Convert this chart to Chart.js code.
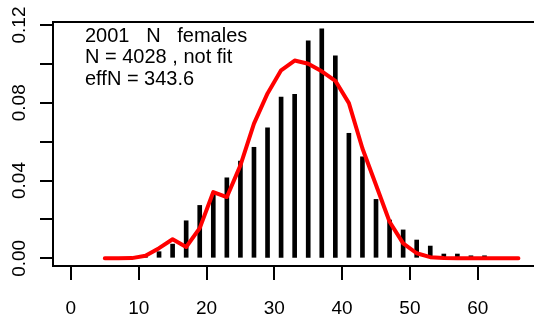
<!DOCTYPE html>
<html>
<head>
<meta charset="utf-8">
<script src="https://cdn.jsdelivr.net/npm/chart.js@4/dist/chart.umd.min.js"></script>
<style>
  html, body { margin: 0; padding: 0; background: #fff; overflow: hidden; }
  #wrap { width: 534px; height: 322px; position: relative; }
</style>
</head>
<body>
<div id="wrap"><canvas id="c" width="534" height="322"></canvas></div>
<script>
// Proportion at length: observed bars and model curve
const barX = [11, 13, 15, 17, 19, 21, 23, 25, 27, 29, 31, 33, 35, 37, 39, 41, 43, 45, 47, 49, 51, 53, 55, 57, 59, 61];
const barY = [0.0012, 0.0034, 0.0073, 0.0193, 0.0272, 0.0330, 0.0414, 0.0500, 0.0571, 0.0671, 0.0829, 0.0843, 0.1119,
              0.1180, 0.1042, 0.0643, 0.0522, 0.0303, 0.0197, 0.0146, 0.0094, 0.0063, 0.0022, 0.0022, 0.0013, 0.0013];
const curveX = [5, 7, 9, 11, 13, 15, 17, 19, 21, 23, 25, 27, 29, 31, 33, 35, 37, 39, 41, 43, 45, 47, 49, 51, 53, 55, 57, 59, 61, 63, 65, 66];
const curveY = [0, 0, 0.0001, 0.0013, 0.0052, 0.0098, 0.0058, 0.0155, 0.0341, 0.0315, 0.0478, 0.0693, 0.0848, 0.0967, 0.1017,
                0.1001, 0.0962, 0.0913, 0.0798, 0.0565, 0.0377, 0.0188, 0.0077, 0.0026, 0.0006, 0.0001, 0, 0, 0, 0, 0, 0];
const xTicks = [0, 10, 20, 30, 40, 50, 60];
const yTicks = [0, 0.02, 0.04, 0.06, 0.08, 0.10, 0.12];
const yLabels = [0, 0.04, 0.08, 0.12];
const infoLines = ['2001   N   females', 'N = 4028 , not fit', 'effN = 343.6'];

const FONT = '"Liberation Sans", Arial, Helvetica, sans-serif';

const axisText = {
  id: 'axisText',
  afterDraw(chart) {
    const ctx = chart.ctx;
    const xs = chart.scales.x, ys = chart.scales.y, a = chart.chartArea;
    ctx.save();
    // top edge of the plot box
    ctx.strokeStyle = '#000';
    ctx.lineWidth = 2;
    ctx.beginPath();
    ctx.moveTo(a.left - 1, a.top);
    ctx.lineTo(a.right + 2, a.top);
    ctx.stroke();

    ctx.fillStyle = '#000';
    ctx.font = '19px ' + FONT;
    ctx.textAlign = 'center';
    ctx.textBaseline = 'alphabetic';
    xTicks.forEach(v => ctx.fillText(String(v), xs.getPixelForValue(v), 313.5));

    yLabels.forEach(v => {
      ctx.save();
      ctx.translate(25, ys.getPixelForValue(v));
      ctx.rotate(-Math.PI / 2);
      ctx.fillText(v.toFixed(2), 0, 0);
      ctx.restore();
    });

    ctx.font = '20px ' + FONT;
    ctx.textAlign = 'left';
    infoLines.forEach((t, i) => ctx.fillText(t, 85, 41.7 + i * 21.6));
    ctx.restore();
  }
};

new Chart(document.getElementById('c'), {
  data: {
    datasets: [
      {
        type: 'line',
        order: 0,
        data: curveX.map((x, i) => ({ x, y: curveY[i] })),
        borderColor: '#ff0000',
        borderWidth: 4,
        tension: 0,
        pointRadius: 0,
        borderJoinStyle: 'round',
        borderCapStyle: 'round',
        fill: false
      },
      {
        type: 'bar',
        order: 1,
        data: barX.map((x, i) => ({ x, y: barY[i] })),
        backgroundColor: '#000',
        borderWidth: 0,
        barThickness: 4
      }
    ]
  },
  options: {
    responsive: false,
    animation: false,
    devicePixelRatio: 1,
    layout: { padding: { top: 22, right: 0, left: 0, bottom: 0 } },
    plugins: { legend: { display: false }, tooltip: { enabled: false } },
    scales: {
      x: {
        type: 'linear',
        min: -2.64,
        max: 68.3,
        offset: false,
        afterBuildTicks: s => { s.ticks = xTicks.map(v => ({ value: v })); },
        afterFit: s => { s.height = 56; },
        ticks: { display: false },
        grid: { offset: false, drawOnChartArea: false, drawTicks: true, tickLength: 14, color: '#000', lineWidth: 2 },
        border: { display: true, color: '#000', width: 2 }
      },
      y: {
        type: 'linear',
        min: -0.00396,
        max: 0.12154,
        afterBuildTicks: s => { s.ticks = yTicks.map(v => ({ value: v })); },
        afterFit: s => { s.width = 53; },
        ticks: { display: false },
        grid: { drawOnChartArea: false, drawTicks: true, tickLength: 13, color: '#000', lineWidth: 2 },
        border: { display: true, color: '#000', width: 2 }
      }
    }
  },
  plugins: [axisText]
});
</script>
</body>
</html>
